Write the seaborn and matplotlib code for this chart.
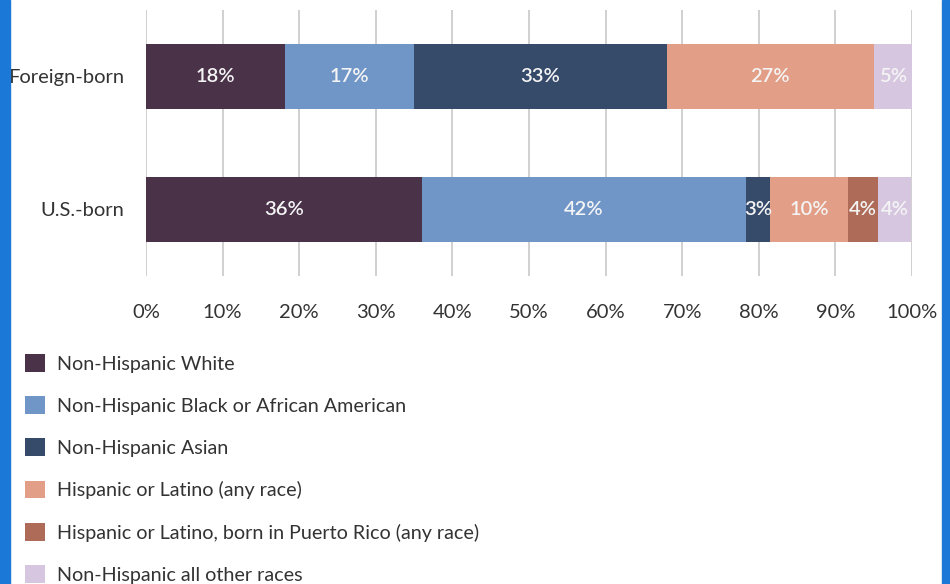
import numpy as np
import pandas as pd
import matplotlib
matplotlib.use("Agg")
import matplotlib.pyplot as plt
import seaborn as sns
from matplotlib.patches import Patch, Rectangle

groups = ["Foreign-born", "U.S.-born"]
categories = [
    "Non-Hispanic White",
    "Non-Hispanic Black or African American",
    "Non-Hispanic Asian",
    "Hispanic or Latino (any race)",
    "Hispanic or Latino, born in Puerto Rico (any race)",
    "Non-Hispanic all other races",
]
foreign_born = [18.1, 16.9, 33.0, 27.0, 0.0, 5.0]
us_born = [36.0, 42.3, 3.2, 10.2, 3.8, 4.4]
xticks = [0, 10, 20, 30, 40, 50, 60, 70, 80, 90, 100]
colors = ["#4a3249", "#7096c8", "#364a6a", "#e39e87", "#ad6b58", "#d6c6e0"]

sns.set_theme(style="white")
plt.rcParams["font.family"] = ["Lato", "DejaVu Sans"]

vals = np.array([foreign_born, us_born])
cum = vals.cumsum(axis=1)

fig = plt.figure(figsize=(9.5, 5.84), dpi=100)
ax = fig.add_axes([146 / 950, 1 - 276 / 584, (912 - 146) / 950, 266 / 584])

# stacked bars: draw cumulative totals from the right so shorter ones sit on top
for i in reversed(range(len(categories))):
    df = pd.DataFrame({"group": groups, "value": cum[:, i]})
    sns.barplot(data=df, x="value", y="group", orient="h", color=colors[i],
                saturation=1, width=0.49, ax=ax, linewidth=0)

for g in range(len(groups)):
    for i in range(len(categories)):
        v = vals[g, i]
        if v <= 0:
            continue
        ax.text(cum[g, i] - v / 2, g, f"{v:.0f}%", ha="center", va="center",
                color="#f4f4f4", fontsize=14.5, fontweight="semibold")

ax.set_xlim(0, 100)
ax.set_ylim(1.5, -0.5)
ax.set_xticks(xticks)
ax.set_xticklabels([f"{t}%" for t in xticks])
ax.grid(axis="x", color="#c8c8c8", linewidth=1.2)
ax.set_axisbelow(True)
ax.set_xlabel("")
ax.set_ylabel("")
sns.despine(ax=ax, left=True, bottom=True)
ax.tick_params(axis="x", length=0, pad=20, labelsize=14.5, labelcolor="#333333")
ax.tick_params(axis="y", length=0, pad=16, labelsize=14.5, labelcolor="#333333")

handles = [Patch(facecolor=c, edgecolor="none") for c in colors]
fig.legend(handles, categories, loc="upper left",
           bbox_to_anchor=(25 / 950, 1 - 354 / 584), frameon=False,
           fontsize=14.2, labelspacing=1.2, handlelength=1.0, handleheight=1.0,
           handletextpad=0.6, borderpad=0, borderaxespad=0, labelcolor="#333333")

# blue side frame
fig.patches.append(Rectangle((0, 0), 10 / 950, 1, transform=fig.transFigure,
                             color="#1c78d6", zorder=10))
fig.patches.append(Rectangle((942 / 950, 0), 8 / 950, 1, transform=fig.transFigure,
                             color="#1c78d6", zorder=10))

fig.savefig("out.png", dpi=100)
